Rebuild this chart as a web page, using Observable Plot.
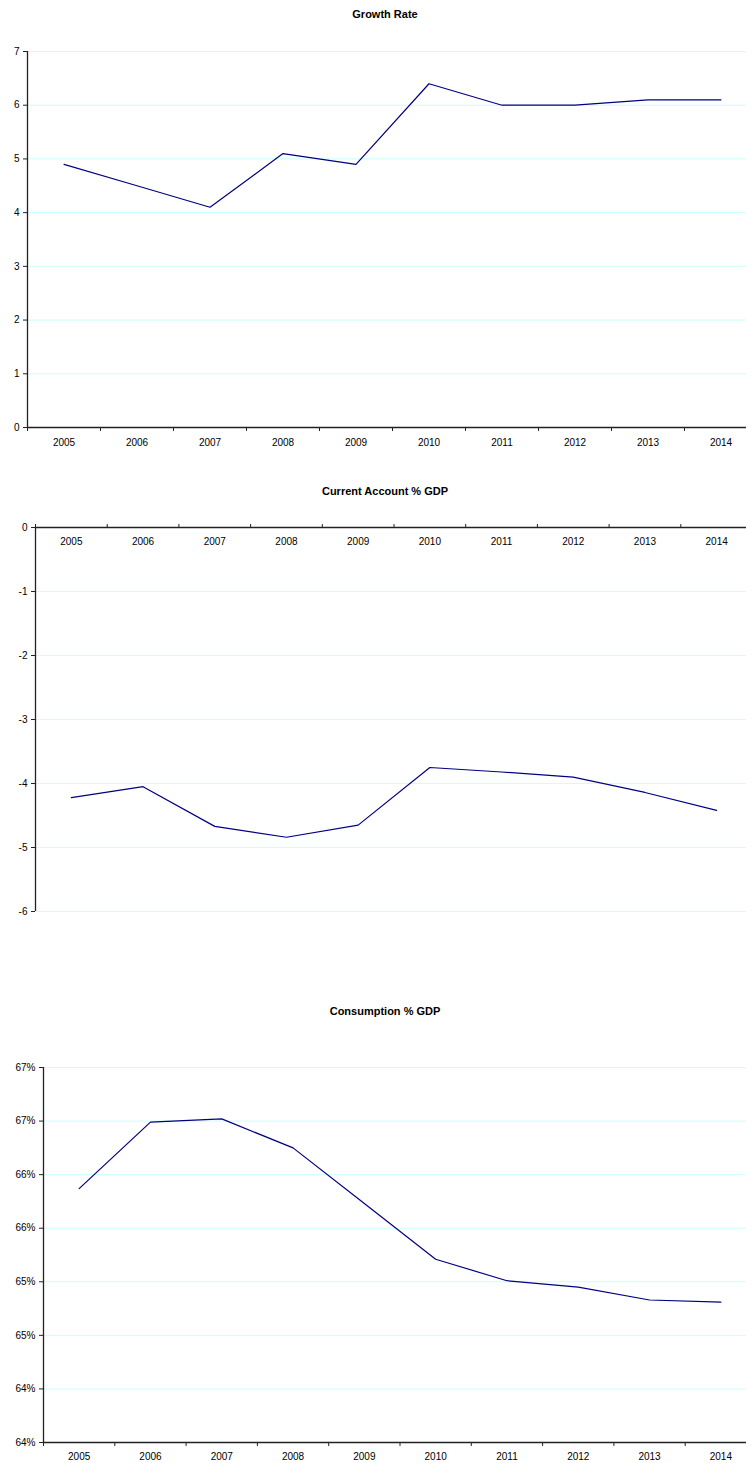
<!DOCTYPE html>
<html>
<head>
<meta charset="utf-8">
<script src="https://cdn.jsdelivr.net/npm/d3@7"></script>
<script src="https://cdn.jsdelivr.net/npm/@observablehq/plot@0.6"></script>
<style>
  html, body { margin: 0; padding: 0; background: #fff; overflow: hidden; }
  #wrap { position: relative; width: 746px; height: 1463px; overflow: hidden; font-family: "Liberation Sans", Arial, sans-serif; }
  .title { position: absolute; transform: translateX(-50%); font-weight: bold; font-size: 11px; white-space: nowrap; color: #000; line-height: 13px; }
  svg { max-width: none !important; }
</style>
</head>
<body>
<div id="wrap"></div>
<script>
const years = ["2005","2006","2007","2008","2009","2010","2011","2012","2013","2014"];

const growthRate = [4.9, 4.5, 4.1, 5.1, 4.9, 6.4, 6.0, 6.0, 6.1, 6.1];
const growthTicks = [0, 1, 2, 3, 4, 5, 6, 7];
const growthTickLabels = ["0", "1", "2", "3", "4", "5", "6", "7"];

const currentAccount = [-4.22, -4.05, -4.67, -4.84, -4.65, -3.75, -3.82, -3.90, -4.14, -4.42];
const currentTicks = [0, -1, -2, -3, -4, -5, -6];
const currentTickLabels = ["0", "-1", "-2", "-3", "-4", "-5", "-6"];

const consumption = [0.6587, 0.6649, 0.6652, 0.6625, 0.6573, 0.6521, 0.6501, 0.6495, 0.6483, 0.6481];
const consumptionTicks = [0.635, 0.640, 0.645, 0.650, 0.655, 0.660, 0.665, 0.670];
const consumptionTickLabels = ["64%", "64%", "65%", "65%", "66%", "66%", "67%", "67%"];

const titles = ["Growth Rate", "Current Account % GDP", "Consumption % GDP"];

const wrap = document.getElementById("wrap");
const LINE = "#000080";
const GRID = "#ccffff";
const AXIS = "#222";

function chart(cfg) {
  const {values, ticks, labels, domain, xRange, axisValue, anchor, top, height, marginTop, marginBottom, labelDy} = cfg;
  const idx = values.map((d, i) => i);
  const fmt = d => labels[ticks.findIndex(t => Math.abs(t - d) < 1e-9)];
  const svg = Plot.plot({
    width: 746,
    height,
    marginTop,
    marginBottom,
    marginLeft: xRange[0],
    marginRight: 0,
    style: {fontFamily: "'Liberation Sans', Arial, sans-serif", fontSize: "10px", color: "#000", background: "transparent"},
    x: {type: "linear", domain: [0, years.length], range: xRange},
    y: {domain},
    marks: [
      Plot.ruleY(ticks, {stroke: GRID, strokeWidth: 1}),
      Plot.axisY({ticks, tickFormat: fmt, tickSize: 4, tickPadding: 4, stroke: AXIS, fill: "#000", fontSize: 10}),
      Plot.axisX({anchor, ticks: d3.range(0, years.length + 1), tickSize: 4, tickFormat: () => "", stroke: AXIS}),
      Plot.ruleX([0], {stroke: AXIS, strokeWidth: 1.3}),
      Plot.ruleY([axisValue], {stroke: AXIS, strokeWidth: 1.3}),
      Plot.text(years, {x: (d, i) => i + 0.5, y: () => axisValue, text: d => d, dy: labelDy, fill: "#000", fontSize: 10}),
      Plot.line(idx, {x: i => i + 0.5, y: i => values[i], stroke: LINE, strokeWidth: 1.2})
    ]
  });
  svg.style.position = "absolute";
  svg.style.left = "0px";
  svg.style.top = top + "px";
  wrap.appendChild(svg);
}

function addTitle(text, cy) {
  const t = document.createElement("div");
  t.className = "title";
  t.textContent = text;
  t.style.left = "385px";
  t.style.top = (cy - 6.5) + "px";
  wrap.appendChild(t);
}

chart({values: growthRate, ticks: growthTicks, labels: growthTickLabels, domain: [0, 7],
  xRange: [27, 757], axisValue: 0, anchor: "bottom", top: 0, height: 480, marginTop: 51, marginBottom: 53, labelDy: 15});
chart({values: currentAccount, ticks: currentTicks, labels: currentTickLabels, domain: [-6, 0],
  xRange: [35, 752], axisValue: 0, anchor: "top", top: 480, height: 480, marginTop: 47, marginBottom: 49, labelDy: 14});
chart({values: consumption, ticks: consumptionTicks, labels: consumptionTickLabels, domain: [0.635, 0.670],
  xRange: [43, 756], axisValue: 0.635, anchor: "bottom", top: 960, height: 503, marginTop: 107, marginBottom: 21, labelDy: 14});

addTitle(titles[0], 14);
addTitle(titles[1], 491);
addTitle(titles[2], 1011);
</script>
</body>
</html>
